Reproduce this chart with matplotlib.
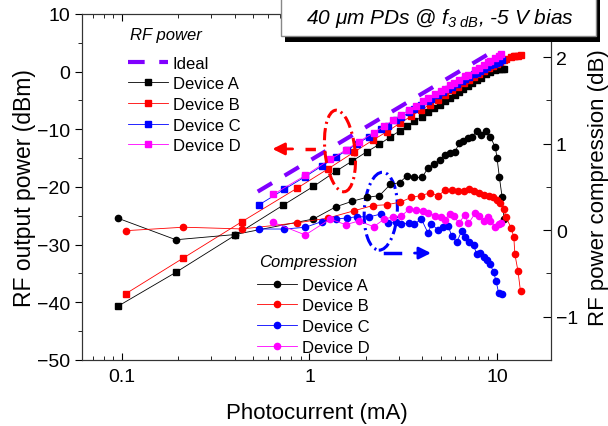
import matplotlib
matplotlib.use('Agg')
import matplotlib.pyplot as plt
import matplotlib.transforms as mtransforms
from matplotlib.patches import Ellipse, Rectangle

plt.rcParams['font.family'] = ['Liberation Sans', 'DejaVu Sans']
plt.rcParams['mathtext.fontset'] = 'custom'
plt.rcParams['mathtext.rm'] = 'Liberation Sans:italic'
plt.rcParams['mathtext.it'] = 'Liberation Sans:italic'

# ideal square-law line
ideal_x = [0.53, 9.6]
ideal_y = [-20.8, 3.6]

# device A
a_rf_x = [0.095, 0.194, 0.40, 0.72, 1.05, 1.38, 1.69, 2.02, 2.36, 2.70, 3.02, 3.32, 3.63, 3.98, 4.29, 4.62,
          4.95, 5.27, 5.60, 5.96, 6.27, 6.62, 6.98, 7.33, 7.80, 8.20, 8.72, 9.20, 9.79, 10.0, 10.28, 10.63, 10.9]
a_rf = [-40.7, -34.8, -28.4, -23.2, -19.9, -17.3, -15.5, -13.9, -12.6, -11.3, -10.3, -9.4, -8.6, -7.8, -7.05, -6.35,
        -5.7, -5.1, -4.55, -4.0, -3.45, -2.95, -2.5, -2.05, -1.45, -1.05, -0.45, -0.05, 0.35, 0.4, 0.45, 0.5, 0.45]
a_cmp_x = [0.095, 0.194, 0.40, 1.05, 1.38, 1.69, 2.02, 2.36, 2.70, 3.02, 3.32, 3.63, 3.98, 4.29, 4.62, 4.95,
           5.27, 5.60, 5.96, 6.27, 6.62, 6.98, 7.33, 7.80, 8.20, 8.72, 9.20, 9.79, 10.0, 10.28, 10.63, 10.9]
a_cmp = [0.14, -0.11, -0.05, 0.13, 0.27, 0.335, 0.38, 0.40, 0.53, 0.55, 0.63, 0.61, 0.61, 0.72, 0.77, 0.81,
         0.87, 0.89, 0.90, 1.005, 1.035, 1.065, 1.08, 1.145, 1.105, 1.145, 1.08, 0.96, 0.835, 0.62, 0.39, 0.13]

# device B
b_x = [0.105, 0.213, 0.437, 0.86, 1.25, 1.73, 2.17, 2.59, 3.05, 3.49, 3.91, 4.38, 4.85, 5.31, 5.77, 6.22,
       6.70, 7.09, 7.58, 8.03, 8.48, 9.02, 9.51, 10.0, 10.41, 10.86, 11.17, 11.89, 12.29, 12.44, 12.92, 13.34]
b_rf = [-38.5, -32.3, -26.0, -20.2, -16.9, -13.95, -11.9, -10.4, -8.9, -7.7, -6.7, -5.7, -4.85, -4.0, -3.25, -2.6,
        -1.95, -1.45, -0.9, -0.45, 0.05, 0.55, 1.0, 1.4, 1.7, 2.0, 2.15, 2.6, 2.75, 2.7, 2.8, 2.85]
b_cmp = [-0.005, 0.035, 0.015, 0.085, 0.14, 0.225, 0.285, 0.295, 0.325, 0.38, 0.40, 0.43, 0.40, 0.465, 0.465, 0.457,
         0.457, 0.477, 0.457, 0.427, 0.41, 0.40, 0.388, 0.35, 0.312, 0.246, 0.15, 0.026, -0.08, -0.275, -0.468, -0.708]

# device C
c_x = [0.538, 0.735, 0.95, 1.16, 1.38, 1.59, 1.80, 2.07, 2.41, 2.61, 2.90, 3.08, 3.41, 3.63, 3.95, 4.29, 4.47,
       4.85, 5.16, 5.49, 5.72, 6.09, 6.48, 6.73, 7.09, 7.49, 7.80, 8.13, 8.48, 8.83, 9.17, 9.59, 9.87, 10.21, 10.63]
c_rf = [-23.1, -20.4, -18.2, -16.4, -14.85, -13.6, -12.5, -11.3, -9.95, -9.35, -8.45, -7.95, -7.05, -6.5, -5.7, -5.15, -4.7,
        -4.05, -3.5, -2.95, -2.7, -2.2, -1.55, -1.3, -0.9, -0.45, -0.2, 0.15, 0.5, 0.8, 1.1, 1.4, 1.55, 1.7, 2.0]
c_cmp = [0.014, 0.014, 0.034, 0.099, 0.13, 0.142, 0.157, 0.153, 0.188, 0.08, 0.092, 0.072, 0.08, 0.072, 0.13, -0.035, 0.072,
         0.003, 0.034, 0.053, -0.063, -0.139, -0.009, -0.082, -0.139, -0.176, -0.275, -0.267, -0.313, -0.344, -0.39,
         -0.486, -0.583, -0.729, -0.737]

# device D
d_x = [0.64, 0.95, 1.29, 1.56, 1.83, 2.2, 2.51, 2.79, 3.08, 3.41, 3.71, 4.03, 4.31, 4.66, 5.01, 5.27, 5.60, 5.87,
       6.27, 6.73, 7.04, 7.64, 7.97, 8.48, 8.94, 9.20, 9.79, 10.21, 10.54]
d_rf = [-21.3, -18.0, -15.2, -13.6, -12.15, -10.6, -9.4, -8.45, -7.6, -6.6, -5.9, -5.15, -4.6, -3.95, -3.35, -2.95, -2.35, -2.0,
        -1.5, -0.75, -0.5, 0.35, 0.7, 1.15, 1.65, 1.9, 2.35, 2.75, 3.05]
d_cmp = [0.092, -0.055, 0.13, 0.064, 0.107, 0.041, 0.13, 0.153, 0.161, 0.246, 0.238, 0.226, 0.20, 0.168, 0.15, 0.122, 0.188, 0.161,
         0.084, 0.176, 0.078, 0.196, 0.168, 0.107, 0.153, 0.11, 0.034, 0.072, 0.084]

fig = plt.figure(figsize=(6.08, 4.27), dpi=100)
ax = fig.add_axes([0.1349, 0.1546, 0.7714, 0.8103])
ax2 = ax.twinx()

# RF output power (left axis)
ax.plot(ideal_x, ideal_y, color='#8000ff', lw=3, ls=(0, (4, 3.5)), label='Ideal')
ax.plot(a_rf_x, a_rf, color='k', lw=0.6, marker='s', ms=3.8, label='Device A')
ax.plot(b_x, b_rf, color='red', lw=0.6, marker='s', ms=3.8, label='Device B')
ax.plot(c_x, c_rf, color='blue', lw=0.6, marker='s', ms=3.8, label='Device C')
ax.plot(d_x, d_rf, color='magenta', lw=0.6, marker='s', ms=3.8, label='Device D')

# compression (right axis)
ax2.plot(a_cmp_x, a_cmp, color='k', lw=0.6, marker='o', ms=4.5, label='Device A')
ax2.plot(b_x, b_cmp, color='red', lw=0.6, marker='o', ms=4.5, label='Device B')
ax2.plot(c_x, c_cmp, color='blue', lw=0.6, marker='o', ms=4.5, label='Device C')
ax2.plot(d_x, d_cmp, color='magenta', lw=0.6, marker='o', ms=4.5, label='Device D')

ax.set_xscale('log')
ax.set_xlim(0.0613, 19.4)
ax.set_ylim(-50, 10)
ax2.set_ylim(-1.5, 2.5)
ax.set_yticks(range(-50, 11, 10))
ax.set_yticks(range(-45, 10, 10), minor=True)
ax2.set_yticks([-1, 0, 1, 2])
ax2.set_yticks([-1.5, -0.5, 0.5, 1.5, 2.5], minor=True)
ax.set_xticks([0.1, 1, 10])
ax.set_xticklabels(['0.1', '1', '10'])

ax.tick_params(axis='x', which='both', direction='in', top=True, labelsize=14, pad=6)
ax.tick_params(axis='x', which='major', length=5)
ax.tick_params(axis='x', which='minor', length=3)
ax.tick_params(axis='y', which='both', direction='out', labelsize=14)
ax.tick_params(axis='y', which='major', length=5)
ax.tick_params(axis='y', which='minor', length=3)
ax2.tick_params(axis='y', which='both', direction='in', labelsize=14)
ax2.tick_params(axis='y', which='major', length=6)
ax2.tick_params(axis='y', which='minor', length=3.5)
for s in list(ax.spines.values()) + list(ax2.spines.values()):
    s.set_color('#333333')

ax.set_xlabel('Photocurrent (mA)', fontsize=16, labelpad=12)
ax.set_ylabel('RF output power (dBm)', fontsize=16.5, labelpad=1)
ax2.set_ylabel('RF power compression (dB)', fontsize=16, labelpad=7)

# legends, titles as separate italic texts
ax.text(0.102, 0.942, 'RF power', transform=ax.transAxes, fontsize=12, style='italic', va='center')
ax.legend(loc='upper left', bbox_to_anchor=(0.097, 0.88), frameon=False, fontsize=12,
          handlelength=2.4, handletextpad=0.3, labelspacing=0.34,
          borderpad=0, borderaxespad=0, numpoints=1)
ax2.text(0.378, 0.285, 'Compression', transform=ax2.transAxes, fontsize=12, style='italic', va='center')
ax2.legend(loc='upper left', bbox_to_anchor=(0.373, 0.238), frameon=False, fontsize=12,
           handlelength=2.4, handletextpad=0.3, labelspacing=0.34,
           borderpad=0, borderaxespad=0, numpoints=1)


# dash-dot ovals marking which curves belong to which axis
def oval(cx, cy, w, h, ang, col):
    tr = fig.dpi_scale_trans + mtransforms.ScaledTranslation(cx, cy, ax2.transAxes)
    ax2.add_patch(Ellipse((0, 0), w, h, angle=ang, transform=tr, fill=False, ec=col,
                          lw=2.2, ls=(0, (4, 1.4, 0.7, 1.4)), clip_on=False))


oval(0.55, 0.604, 0.30, 0.82, 6, 'red')
oval(0.637, 0.43, 0.33, 0.78, -3, 'blue')

# arrows
ax2.plot([0.475, 0.51], [0.61, 0.61], transform=ax2.transAxes, color='red', lw=2.5, ls=(0, (3, 2)))
ax2.annotate('', xy=(0.4, 0.61), xytext=(0.455, 0.61), xycoords='axes fraction',
             arrowprops=dict(arrowstyle='-|>', color='red', lw=2, mutation_scale=18))
ax2.plot([0.645, 0.678], [0.309, 0.309], transform=ax2.transAxes, color='blue', lw=2.5)
ax2.annotate('', xy=(0.75, 0.309), xytext=(0.703, 0.309), xycoords='axes fraction',
             arrowprops=dict(arrowstyle='-|>', color='blue', lw=2, mutation_scale=18))

# title box with shadow
fig.patches.append(Rectangle((0.469, 0.899), 0.518, 0.11, transform=fig.transFigure, fc='black', ec='none', zorder=5))
fig.patches.append(Rectangle((0.462, 0.913), 0.518, 0.11, transform=fig.transFigure, fc='white', ec='#888888',
                             lw=1, zorder=6))
fig.text(0.723, 0.956, '40 μm PDs @ $f_{3\\ dB}$, -5 V bias', ha='center', va='center', fontsize=15,
         style='italic', zorder=7)

fig.savefig('out.png', dpi=100)
